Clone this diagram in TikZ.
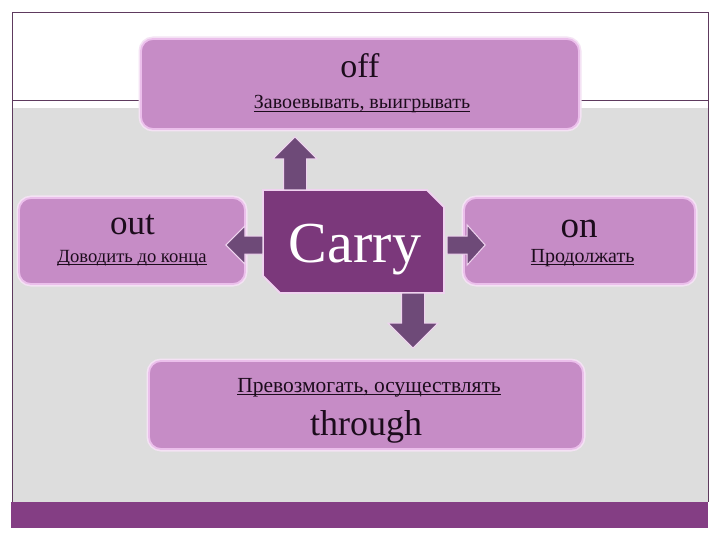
\documentclass[tikz,border=0pt]{standalone}
\usepackage{fontspec}
\setmainfont{Liberation Serif}
\usetikzlibrary{calc}
\definecolor{bandgrey}{HTML}{DDDDDD}
\definecolor{barpurple}{HTML}{843E84}
\definecolor{framecol}{HTML}{5E3A5E}
\definecolor{boxfill}{HTML}{C68CC6}
\definecolor{boxedge}{HTML}{EBBFEB}
\definecolor{boxglow}{HTML}{F4E2F4}
\definecolor{carryfill}{HTML}{7B387B}
\definecolor{carryedge}{HTML}{F0D2F0}
\definecolor{arrfill}{HTML}{6E4A78}
\definecolor{arredge}{HTML}{EFD3EF}
\definecolor{txt}{HTML}{1C0C1C}
\newcommand\ulsub[1]{{\setbox0\hbox{#1}\rlap{\rule[-2.6pt]{\wd0}{0.9pt}}\box0}}
\newcommand\barrow[6]{%
  \begin{scope}[shift={#1},rotate=#2]
    \filldraw[arrowbody] (0,{-#4/2}) -- (#3,{-#4/2}) -- (#3,{-#6/2}) -- ({#3+#5},0)
      -- (#3,{#6/2}) -- (#3,{#4/2}) -- (0,{#4/2}) -- cycle;
  \end{scope}}
\begin{document}
\begin{tikzpicture}[x=1pt,y=-1pt,
  box/.style={preaction={draw=boxglow,line width=5pt,rounded corners=13pt},
    draw=boxedge,line width=1.8pt,fill=boxfill,rounded corners=12pt,inner sep=0pt},
  word/.style={text=txt,font=\fontsize{35}{40}\selectfont,inner sep=0pt,anchor=base},
  sub/.style={text=txt,font=\fontsize{20}{24}\selectfont,inner sep=0pt,anchor=base},
  carryshape/.style={fill=carryfill,draw=carryedge,line width=1.8pt},
  arrowbody/.style={fill=arrfill,draw=arredge,line width=1pt},
  frameline/.style={draw=framecol,line width=0.8pt}]
\useasboundingbox (0,0) rectangle (720,540);
\fill[white] (0,0) rectangle (720,540);
\fill[bandgrey] (12,108) rectangle (708,502);
\fill[barpurple] (11,502) rectangle (708,528);
\draw[frameline] (12,502) -- (12,12) -- (708,12) -- (708,502);
\draw[frameline] (12,100) -- (708,100);
% boxes
\node[box,minimum width=438pt,minimum height=90pt] (off) at (360,84) {};
\node[box,minimum width=226pt,minimum height=86pt] (out) at (132,241) {};
\node[box,minimum width=231pt,minimum height=86pt] (on) at (579.5,241) {};
\node[box,minimum width=434pt,minimum height=88pt] (through) at (366,405) {};
% carry
\coordinate (cc) at (353.5,241.5);
\filldraw[carryshape] ($(cc)+(-90.5,-51.5)$) -- ($(cc)+(73.5,-51.5)$) -- ($(cc)+(90.5,-34.5)$)
  -- ($(cc)+(90.5,51.5)$) -- ($(cc)+(-73.5,51.5)$) -- ($(cc)+(-90.5,34.5)$) -- cycle;
\node[inner sep=0pt,minimum width=181pt,minimum height=103pt] (carry) at (cc) {};
\node[word,text=white,font=\fontsize{58}{64}\selectfont] (carryT) at (355,262) {Carry};
% texts
\node[word,font=\fontsize{34}{40}\selectfont] (offW) at (360,78) {off};
\node[sub] (offS) at (362,109) {\ulsub{Завоевывать, выигрывать}};
\node[word] (outW) at (132.5,235) {out};
\node[sub,font=\fontsize{18.6}{22}\selectfont] (outS) at (132,262) {\ulsub{Доводить до конца}};
\node[word,font=\fontsize{37}{42}\selectfont] (onW) at (579,237) {on};
\node[sub] (onS) at (582.5,262) {\ulsub{Продолжать}};
\node[sub,font=\fontsize{21.5}{26}\selectfont] (thrS) at (369,392) {\ulsub{Превозмогать, осуществлять}};
\node[word,font=\fontsize{36}{42}\selectfont] (thrW) at (366,435) {through};
% arrows
\barrow{($(carry.north)+(-58.5,0)$)}{90}{31}{23}{22}{44}
\barrow{($(carry.south)+(59.5,0)$)}{-90}{30}{23}{25}{50}
\barrow{($(carry.west)+(0,3.5)$)}{180}{18}{18}{19}{38}
\barrow{($(carry.east)+(3,3.5)$)}{0}{20}{18}{18}{40}
\end{tikzpicture}
\end{document}
